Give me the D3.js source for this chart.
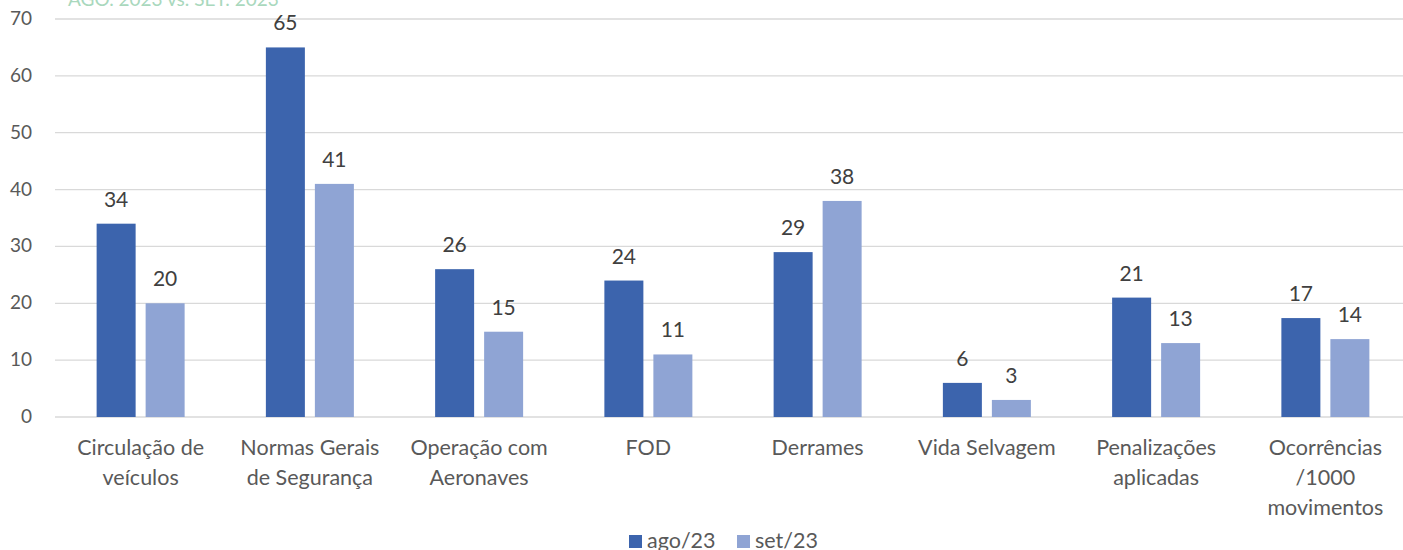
<!DOCTYPE html>
<html>
<head>
<meta charset="utf-8">
<script src="https://cdn.jsdelivr.net/npm/d3@7"></script>
<style>
  body { margin: 0; background: #fff; }
  svg { display: block; font-family: Lato, 'Open Sans', sans-serif; }
</style>
</head>
<body>
<div id="chart"></div>
<script>
var categories = [
  ['Circulação de', 'veículos'],
  ['Normas Gerais', 'de Segurança'],
  ['Operação com', 'Aeronaves'],
  ['FOD'],
  ['Derrames'],
  ['Vida Selvagem'],
  ['Penalizações', 'aplicadas'],
  ['Ocorrências', '/1000', 'movimentos']
]
var seriesNames = ['ago/23', 'set/23']
var ago23 = [34, 65, 26, 24, 29, 6, 21, 17.4]
var set23 = [20, 41, 15, 11, 38, 3, 13, 13.7]
var yTicks = [0, 10, 20, 30, 40, 50, 60, 70]
var colors = ['#3c64ad', '#8fa4d4']

var width = 1403, height = 550
var margin = {left: 56, right: -7, top: 19, bottom: 133}

var svg = d3.select('#chart').append('svg')
  .attr('width', width).attr('height', height)

var x = d3.scaleBand()
  .domain(d3.range(categories.length))
  .range([margin.left, width - margin.right])

var y = d3.scaleLinear()
  .domain([0, 70])
  .range([height - margin.bottom, margin.top])

// clipped title
svg.append('text')
  .attr('x', 68).attr('y', 6)
  .attr('fill', '#a9d8bd')
  .attr('font-size', 19)
  .text('AGO. 2023  vs. SET. 2023')

// gridlines
svg.append('g').selectAll('line').data(yTicks).join('line')
  .attr('x1', 55).attr('x2', width)
  .attr('y1', d => y(d)).attr('y2', d => y(d))
  .attr('stroke', '#d9d9d9').attr('stroke-width', 1.3)

svg.append('g').selectAll('text').data(yTicks).join('text')
  .attr('x', 32).attr('y', d => y(d) + 6)
  .attr('text-anchor', 'end')
  .attr('fill', '#595959').attr('font-size', 19)
  .text(d => d)

var barW = 39, gap = 10
var series = [ago23, set23]

series.forEach(function(vals, s){
  var g = svg.append('g')
  g.selectAll('rect').data(vals).join('rect')
    .attr('x', (d, i) => x(i) + x.bandwidth()/2 + (s === 0 ? -gap/2 - barW : gap/2))
    .attr('y', d => y(d))
    .attr('width', barW)
    .attr('height', d => y(0) - y(d))
    .attr('fill', colors[s])
  g.selectAll('text').data(vals).join('text')
    .attr('x', (d, i) => x(i) + x.bandwidth()/2 + (s === 0 ? -gap/2 - barW/2 : gap/2 + barW/2))
    .attr('y', d => y(d) - 17)
    .attr('text-anchor', 'middle')
    .attr('fill', '#404040').attr('font-size', 21)
    .text(d => d3.format('.0f')(d))
})

// category labels
var cat = svg.append('g').selectAll('text').data(categories).join('text')
  .attr('text-anchor', 'middle')
  .attr('fill', '#595959').attr('font-size', 21.5)
  .attr('transform', (d, i) => `translate(${x(i) + x.bandwidth()/2},${y(0) + 38})`)
cat.selectAll('tspan').data(d => d).join('tspan')
  .attr('x', 0).attr('dy', (d, i) => i ? 30 : 0)
  .text(d => d)

// legend
var legend = svg.append('g').attr('transform', 'translate(629,541)')
var lx = [0, 108]
seriesNames.forEach(function(n, i){
  legend.append('rect').attr('x', lx[i]).attr('y', -6).attr('width', 13).attr('height', 13).attr('fill', colors[i])
  legend.append('text').attr('x', lx[i] + 18).attr('y', 7)
    .attr('fill', '#595959').attr('font-size', 21.5).text(n)
})
</script>
</body>
</html>
